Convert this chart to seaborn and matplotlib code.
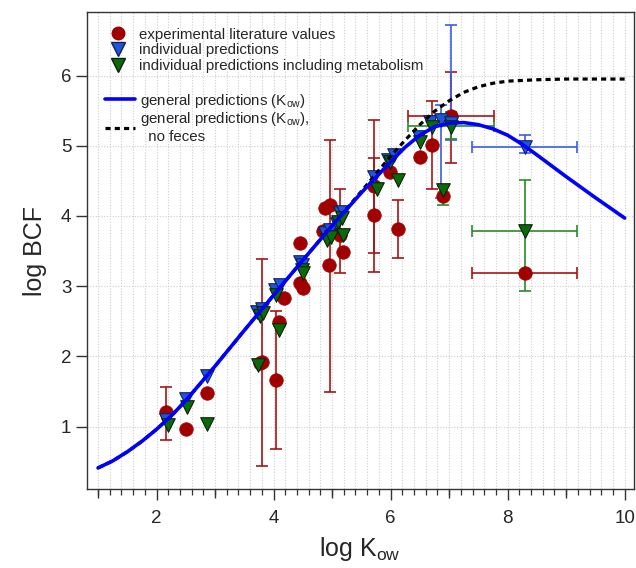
import numpy as np
import matplotlib.pyplot as plt
import seaborn as sns
from matplotlib.lines import Line2D

# --- data ---
# experimental literature values (red circles)
exp_x = [2.17, 2.50, 2.86, 3.76, 3.80, 4.05, 4.10, 4.17, 4.45, 4.45, 4.51, 4.85, 4.88, 4.94,
         4.94, 4.97, 5.14, 5.19, 5.72, 5.72, 5.99, 6.12, 6.50, 6.70, 6.90, 7.03, 8.30]
exp_y = [1.20, 0.96, 1.48, 1.90, 1.92, 1.66, 2.49, 2.83, 3.61, 3.04, 2.98, 3.78, 4.11, 3.30,
         3.80, 4.16, 3.73, 3.49, 4.42, 4.01, 4.63, 3.81, 4.84, 5.01, 4.29, 5.42, 3.18]
# vertical ranges of the experimental values
exp_bar_x = [2.17, 3.80, 4.05, 4.97, 5.14, 5.72, 5.72, 6.12, 6.70, 7.03]
exp_bar_y = [1.20, 1.92, 1.66, 4.16, 3.73, 4.42, 4.01, 3.81, 5.01, 5.42]
exp_bar_lo = [0.81, 0.44, 0.68, 1.49, 3.19, 3.47, 3.20, 3.40, 4.38, 4.76]
exp_bar_hi = [1.57, 3.38, 2.65, 5.08, 4.39, 5.36, 4.82, 4.23, 5.64, 6.05]
# horizontal (log Kow) ranges
exp_hbar_x = [7.03, 8.30]
exp_hbar_y = [5.42, 3.18]
exp_hbar_lo = [6.29, 7.39]
exp_hbar_hi = [7.77, 9.18]

# individual predictions (blue triangles)
ind_x = [2.17, 2.50, 2.86, 3.72, 3.80, 4.03, 4.11, 4.45, 4.48, 4.88, 4.97, 5.08, 5.14, 5.19,
         5.71, 5.96, 6.05, 6.48, 6.67, 6.87, 7.03, 8.30]
ind_y = [1.09, 1.39, 1.72, 2.63, 2.68, 2.94, 3.02, 3.35, 3.30, 3.75, 3.80, 3.89, 4.04, 4.06,
         4.55, 4.80, 4.87, 5.13, 5.34, 5.36, 5.33, 4.98]
ind_bar_x = [6.87, 7.03, 8.30]
ind_bar_y = [5.36, 5.33, 4.98]
ind_bar_lo = [4.25, 5.08, 4.90]
ind_bar_hi = [5.58, 6.72, 5.15]
ind_hbar_x = [8.30]
ind_hbar_y = [4.98]
ind_hbar_lo = [7.39]
ind_hbar_hi = [9.18]

# individual predictions including metabolism (green triangles)
met_x = [2.20, 2.52, 2.87, 3.74, 3.76, 3.82, 4.05, 4.10, 4.48, 4.51, 4.91, 4.99, 5.10, 5.17,
         5.19, 5.76, 5.99, 6.13, 6.50, 6.70, 6.90, 7.03, 8.30]
met_y = [1.02, 1.28, 1.04, 1.88, 2.58, 2.62, 2.87, 2.37, 3.23, 3.18, 3.66, 3.70, 3.92, 3.97,
         3.73, 4.39, 4.77, 4.51, 5.06, 5.27, 4.37, 5.27, 3.78]
met_bar_x = [6.90, 7.03, 8.30]
met_bar_y = [4.37, 5.27, 3.78]
met_bar_lo = [4.16, 5.10, 2.93]
met_bar_hi = [4.42, 5.48, 4.51]
met_hbar_x = [7.03, 8.30]
met_hbar_y = [5.28, 3.78]
met_hbar_lo = [6.29, 7.39]
met_hbar_hi = [7.77, 9.18]

# general predictions (Kow)
gen_x = [1.0, 1.25, 1.5, 1.75, 2.0, 2.25, 2.5, 3.0, 3.5, 4.0, 4.5, 5.0, 5.5, 5.75, 6.0, 6.25,
         6.5, 6.75, 7.0, 7.25, 7.5, 7.75, 8.0, 8.25, 8.5, 9.0, 9.5, 10.0]
gen_y = [0.41, 0.51, 0.64, 0.79, 0.96, 1.15, 1.37, 1.86, 2.37, 2.87, 3.37, 3.86, 4.33, 4.55,
         4.77, 4.98, 5.15, 5.27, 5.32, 5.33, 5.30, 5.24, 5.15, 5.02, 4.87, 4.56, 4.26, 3.97]
# general predictions (Kow), no feces
nof_x = [1.0, 1.25, 1.5, 1.75, 2.0, 2.25, 2.5, 3.0, 3.5, 4.0, 4.5, 5.0, 5.5, 5.75, 6.0, 6.25,
         6.5, 6.75, 7.0, 7.25, 7.5, 7.75, 8.0, 8.5, 9.0, 9.5, 10.0]
nof_y = [0.41, 0.51, 0.64, 0.79, 0.96, 1.15, 1.37, 1.86, 2.37, 2.87, 3.37, 3.86, 4.35, 4.60,
         4.85, 5.08, 5.30, 5.49, 5.64, 5.76, 5.84, 5.89, 5.92, 5.94, 5.95, 5.95, 5.95]

red = '#A00000'
blue_fill = '#1F55D8'
green_fill = '#0A6A0A'

sns.set_style("white")
plt.rcParams['font.family'] = ['Liberation Sans', 'DejaVu Sans']
plt.rcParams['mathtext.fontset'] = 'custom'
plt.rcParams['mathtext.rm'] = 'Liberation Sans'
plt.rcParams['mathtext.it'] = 'Liberation Sans'

fig = plt.figure(figsize=(6.36, 5.68), dpi=100)
ax = fig.add_axes([86.5 / 636, 79 / 568, 547.5 / 636, 477 / 568])


def bars(bx, by, lo, hi, color, horizontal=False):
    bx, by, lo, hi = map(np.array, (bx, by, lo, hi))
    if horizontal:
        ax.errorbar(bx, by, xerr=[bx - lo, hi - bx], fmt='none', ecolor=color,
                    elinewidth=1.2, capsize=4, capthick=1.2, zorder=2)
    else:
        ax.errorbar(bx, by, yerr=[by - lo, hi - by], fmt='none', ecolor=color,
                    elinewidth=1.2, capsize=4, capthick=1.2, zorder=2)


bars(exp_bar_x, exp_bar_y, exp_bar_lo, exp_bar_hi, '#A51515')
bars(exp_hbar_x, exp_hbar_y, exp_hbar_lo, exp_hbar_hi, '#A51515', horizontal=True)
sns.scatterplot(x=exp_x, y=exp_y, color=red, edgecolor=red, s=95, marker='o',
                linewidth=0.5, ax=ax, zorder=3)

bars(ind_bar_x, ind_bar_y, ind_bar_lo, ind_bar_hi, '#3A5FE0')
bars(ind_hbar_x, ind_hbar_y, ind_hbar_lo, ind_hbar_hi, '#3A5FE0', horizontal=True)
sns.scatterplot(x=ind_x, y=ind_y, color=blue_fill, edgecolor='#10205A', s=95, marker='v',
                linewidth=0.8, ax=ax, zorder=4)

bars(met_bar_x, met_bar_y, met_bar_lo, met_bar_hi, '#2A8A2A')
bars(met_hbar_x, met_hbar_y, met_hbar_lo, met_hbar_hi, '#2A8A2A', horizontal=True)
sns.scatterplot(x=met_x, y=met_y, color=green_fill, edgecolor='#0A200A', s=95, marker='v',
                linewidth=0.8, ax=ax, zorder=5)

sns.lineplot(x=nof_x, y=nof_y, color='black', linewidth=2.3, linestyle=(0, (1.6, 1.3)),
             ax=ax, zorder=6)
sns.lineplot(x=gen_x, y=gen_y, color='#0000FF', linewidth=2.6, ax=ax, zorder=7)

ax.set_xlim(0.803, 10.16)
ax.set_ylim(0.11, 6.905)

# ticks
ax.set_xticks([2, 4, 6, 8, 10])
minor = [round(v, 1) for v in np.arange(1.0, 10.01, 0.2)]
ax.set_xticks(minor, minor=True)
ax.set_yticks([1, 2, 3, 4, 5, 6])
ax.tick_params(axis='both', which='major', direction='out', length=8, width=1,
               color='#333333', labelsize=13.5, bottom=True, left=True)
ax.tick_params(axis='x', which='major', pad=7)
ax.tick_params(axis='y', which='major', pad=3)
ax.tick_params(axis='x', which='minor', direction='out', length=4.5, width=0.9,
               color='#333333', bottom=True)
sec = ax.secondary_xaxis('bottom')
sec.set_xticks([1, 3, 5, 7, 9])
sec.tick_params(direction='out', length=6.5, width=1, color='#333333', labelbottom=False)
sec.spines['bottom'].set_visible(False)

ax.grid(True, which='minor', axis='x', color='#CFCFCF', linestyle=(0, (1, 1.5)), linewidth=0.8)
ax.grid(True, which='major', axis='x', color='#CFCFCF', linestyle=(0, (1, 1.5)), linewidth=0.8)
ax.grid(True, which='major', axis='y', color='#CFCFCF', linestyle=(0, (1, 1.5)), linewidth=0.8)
ax.set_axisbelow(True)
for s in ax.spines.values():
    s.set_color('#333333')
    s.set_linewidth(1)

ax.set_xlabel(r'log K$_{\mathregular{ow}}$', fontsize=18, labelpad=6)
ax.set_ylabel('log BCF', fontsize=18, labelpad=10)

# legends
h1 = [Line2D([], [], linestyle='none', marker='o', markersize=9, color=red),
      Line2D([], [], linestyle='none', marker='v', markersize=9.5, markerfacecolor=blue_fill,
             markeredgecolor='#10205A'),
      Line2D([], [], linestyle='none', marker='v', markersize=9.5, markerfacecolor=green_fill,
             markeredgecolor='#0A200A')]
l1 = ['experimental literature values', 'individual predictions',
      'individual predictions including metabolism']
leg1 = ax.legend(h1, l1, loc='upper left', bbox_to_anchor=(112 / 636, 540.5 / 568),
                 bbox_transform=fig.transFigure, frameon=False, fontsize=10.8,
                 handlelength=0.8, handletextpad=1.0, labelspacing=0.12,
                 borderpad=0, borderaxespad=0)
ax.add_artist(leg1)

h2 = [Line2D([], [], color='#0000FF', linewidth=2.6),
      Line2D([], [], color='black', linewidth=2.3, linestyle=(0, (1.6, 1.3)))]
l2 = [r'general predictions (K$_{\mathregular{ow}}$)',
      'general predictions (K$_{\\mathregular{ow}}$),\n  no feces']
ax.legend(h2, l2, loc='upper left', bbox_to_anchor=(105 / 636, 476.5 / 568),
          bbox_transform=fig.transFigure, frameon=False, fontsize=10.8,
          handlelength=2.0, handletextpad=0.3, labelspacing=0.05,
          borderpad=0, borderaxespad=0)

fig.savefig('out.png', dpi=100)
